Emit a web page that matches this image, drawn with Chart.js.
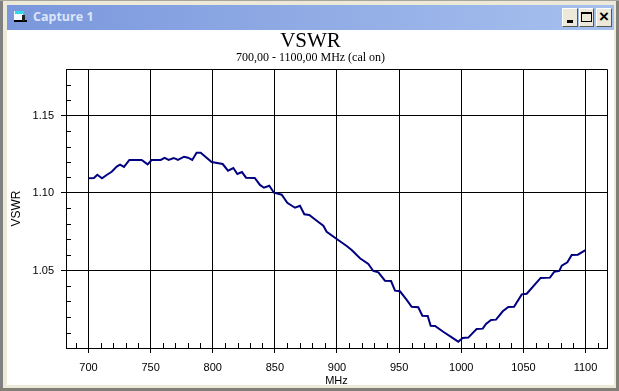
<!DOCTYPE html>
<html><head><meta charset="utf-8">
<script src="https://cdn.jsdelivr.net/npm/chart.js@4"></script>
<style>
html,body{margin:0;padding:0;background:#fff;overflow:hidden}
#win{position:relative;width:619px;height:391px;background:#ece9d8;overflow:hidden}
#win div{position:absolute;box-sizing:border-box}
#canvasBox{left:0;top:0;width:619px;height:391px}
.btn{top:8px;height:19px;background:#ece9d8;border:1px solid;border-color:#fff #555 #555 #fff}
</style></head><body>
<div id="win">
<div style="left:0;top:0;width:619px;height:1px;background:#a8a69c"></div>
<div style="left:0;top:1px;width:3px;height:390px;background:#808080"></div>
<div style="right:0;top:1px;width:3px;height:390px;background:#808078"></div>
<div style="left:0;bottom:0;width:619px;height:3px;background:#808078"></div>
<div style="left:7px;top:30px;width:607px;height:355px;background:#fff"></div>
<div style="left:7px;top:5px;width:607px;height:25px;background:linear-gradient(90deg,#7a97dc,#a6c0ee)"></div>
<div style="left:14px;top:11px;width:9px;height:9px;background:#f4f8ff"></div>
<div style="left:15px;top:11px;width:9px;height:3px;background:#30d8e8"></div>
<div style="left:14px;top:20px;width:13px;height:2px;background:#000"></div>
<div style="left:22px;top:15px;width:3px;height:6px;background:#222"></div>
<div style="left:33px;top:9px;height:16px;color:#dce6fa;font:bold 12.5px/16px 'Open Sans','Liberation Sans';white-space:nowrap">Capture 1</div>
<div class="btn" style="left:562px;width:16px"><div style="left:4px;top:11px;width:6px;height:3px;background:#000"></div></div>
<div class="btn" style="left:579px;width:15px"><div style="left:1px;top:3px;width:11px;height:10px;border:1px solid #000;border-top-width:2px"></div></div>
<div class="btn" style="left:596px;width:16px"><div style="left:2px;top:-1px;width:10px;height:17px;color:#000;font:bold 17px/17px 'Liberation Sans';text-align:center">×</div></div>
<div id="canvasBox"><canvas id="c" width="619" height="391"></canvas></div>
</div>
<script>
const frequencies = [700,704.4,707.1,710.9,714.6,718.7,722.7,725.4,728.6,732.9,742.8,747.6,750.8,758.1,761.3,764.5,768.6,772,776.9,780.1,783.5,787,790.3,799.1,808,812.3,816.6,819.8,823.5,826.8,833.8,838,841.2,845.5,849.3,855.5,860,866.2,870.2,873.7,877.7,885,889,891.7,899.8,907.8,911.8,918.5,925.2,929.2,933.3,938.6,943.5,946.7,950.7,956.1,960.1,965.4,968.7,973,975.4,978.9,985.5,997.6,1001.1,1005.7,1009.7,1012.4,1017.3,1019.9,1024,1028,1033.4,1037.9,1042.5,1048.7,1052.7,1063.9,1071.4,1074.9,1078.9,1080.9,1085.4,1088.9,1093.8,1100];
const vswr = [1.1095,1.1097,1.1118,1.1095,1.1116,1.1137,1.117,1.1183,1.1168,1.1213,1.1213,1.1185,1.1213,1.1213,1.1226,1.1213,1.1226,1.1213,1.1234,1.1228,1.1213,1.126,1.126,1.12,1.1187,1.1144,1.1161,1.1123,1.1135,1.1099,1.1097,1.1052,1.1034,1.1047,1.1002,1.0989,1.0937,1.0905,1.0918,1.0863,1.0858,1.0813,1.0789,1.075,1.0703,1.0658,1.0632,1.0579,1.0542,1.0497,1.0488,1.0434,1.0432,1.037,1.0366,1.031,1.0266,1.0263,1.0208,1.0206,1.0144,1.0142,1.0105,1.0041,1.0065,1.0067,1.0101,1.0123,1.0125,1.0155,1.0181,1.0183,1.0237,1.0265,1.0266,1.0346,1.035,1.0452,1.0454,1.0492,1.0497,1.0531,1.0553,1.06,1.0602,1.0632];
const xMajor = [700,750,800,850,900,950,1000,1050,1100];
const yMajor = [1.05,1.10,1.15];
const xMinor = [690,710,720,730,740,760,770,780,790,810,820,830,840,860,870,880,890,910,920,930,940,960,970,980,990,1010,1020,1030,1040,1060,1070,1080,1090,1110];
const yMinor = [1.01,1.02,1.03,1.04,1.06,1.07,1.08,1.09,1.11,1.12,1.13,1.14,1.16,1.17];
const titleText = 'VSWR';
const subtitleText = '700,00 - 1100,00 MHz (cal on)';

const frame = {
  id:'frame',
  afterDraw(ch){
    const c=ch.ctx,a=ch.chartArea,sx=ch.scales.x,sy=ch.scales.y;
    c.save();c.strokeStyle='#000';c.lineWidth=1;c.beginPath();
    c.moveTo(a.left+.5,a.top+.5);c.lineTo(a.right+.5,a.top+.5);
    c.lineTo(a.right+.5,a.bottom+.5);c.lineTo(a.left+.5,a.bottom+.5);c.closePath();
    xMinor.forEach(v=>{const p=Math.round(sx.getPixelForValue(v))+.5;c.moveTo(p,a.bottom);c.lineTo(p,a.bottom-5);});
    yMinor.forEach(v=>{const p=Math.round(sy.getPixelForValue(v))+.5;c.moveTo(a.left,p);c.lineTo(a.left+5,p);});
    c.stroke();c.restore();
  }
};
new Chart(document.getElementById('c'),{
  type:'line',
  data:{datasets:[{data:frequencies.map((f,i)=>({x:f,y:vswr[i]})),borderColor:'#000080',borderWidth:2,pointRadius:0,tension:0,fill:false}]},
  plugins:[frame],
  options:{
    responsive:false,animation:false,events:[],
    layout:{padding:{top:30,right:12,left:14,bottom:0}},
    plugins:{
      legend:{display:false},tooltip:{enabled:false},
      title:{display:true,text:titleText,color:'#000',padding:0,font:{family:'"Liberation Serif"',size:21,weight:'normal',lineHeight:'22px'}},
      subtitle:{display:true,text:subtitleText,color:'#000',padding:{top:0,bottom:5},font:{family:'"Liberation Serif"',size:12,weight:'normal',lineHeight:'12px'}}
    },
    scales:{
      x:{type:'linear',min:681.9,max:1117.3,
        afterBuildTicks:s=>{s.ticks=xMajor.map(v=>({value:v}));},
        afterFit:s=>{s.height=43;},
        grid:{color:'#000',lineWidth:1,tickLength:5,tickColor:'#000',drawTicks:true},
        border:{display:true,color:'#000'},
        ticks:{color:'#000',maxRotation:0,autoSkip:false,padding:8,font:{family:'"Liberation Sans"',size:11},callback:v=>String(v)},
        title:{display:true,text:'MHz',color:'#000',padding:{top:0,bottom:4.5},font:{family:'"Liberation Sans"',size:11,lineHeight:'12px'}}},
      y:{type:'linear',min:1,max:1.18,
        afterBuildTicks:s=>{s.ticks=yMajor.map(v=>({value:v}));},
        afterFit:s=>{s.width=52;},
        grid:{color:'#000',lineWidth:1,tickLength:5,tickColor:'#000'},
        border:{display:true,color:'#000'},
        ticks:{color:'#000',padding:7,autoSkip:false,font:{family:'"Liberation Sans"',size:11},callback:v=>Number(v).toFixed(2)},
        title:{display:true,text:'VSWR',color:'#000',padding:0,font:{family:'"Liberation Sans"',size:12,lineHeight:'5px'}}}
    }
  }
});
</script>
</body></html>
